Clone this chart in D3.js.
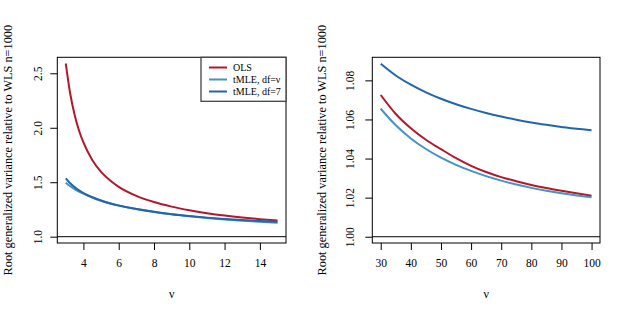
<!DOCTYPE html>
<html>
<head>
<meta charset="utf-8">
<script src="https://cdn.jsdelivr.net/npm/d3@7"></script>
<style>
  body { margin: 0; background: #fff; }
</style>
</head>
<body>
<svg id="chart" width="630" height="315" font-family="Liberation Serif"></svg>
<script>
// left panel: small nu
var nuLeft = [3, 3.25, 3.5, 3.75, 4, 4.5, 5, 5.5, 6, 7, 8, 9, 10, 11, 12, 13, 14, 15];
var olsLeft = [2.59, 2.315, 2.12, 1.975, 1.865, 1.705, 1.595, 1.518, 1.458, 1.375, 1.318, 1.276, 1.243, 1.216, 1.194, 1.176, 1.161, 1.148];
var tmleNuLeft = [1.496, 1.463, 1.437, 1.415, 1.396, 1.36, 1.33, 1.305, 1.285, 1.254, 1.227, 1.205, 1.187, 1.171, 1.158, 1.147, 1.137, 1.129];
var tmle7Left = [1.536, 1.49, 1.455, 1.425, 1.4, 1.362, 1.332, 1.307, 1.287, 1.254, 1.228, 1.207, 1.19, 1.175, 1.163, 1.153, 1.144, 1.136];

// right panel: large nu
var nuRight = [30, 35, 40, 45, 50, 55, 60, 65, 70, 75, 80, 85, 90, 95, 100];
var olsRight = [1.0725, 1.0628, 1.0555, 1.0496, 1.0448, 1.0402, 1.0363, 1.0331, 1.0305, 1.0284, 1.0265, 1.0249, 1.0235, 1.0222, 1.021];
var tmleNuRight = [1.0655, 1.057, 1.0503, 1.0449, 1.0405, 1.0368, 1.0337, 1.031, 1.0287, 1.0267, 1.025, 1.0235, 1.0222, 1.0211, 1.0202];
var tmle7Right = [1.0885, 1.0825, 1.0778, 1.0739, 1.0706, 1.0678, 1.0654, 1.0633, 1.0615, 1.0599, 1.0585, 1.0573, 1.0562, 1.0552, 1.0545];

var leftXTicks = [4, 6, 8, 10, 12, 14];
var leftYTicks = [1.0, 1.5, 2.0, 2.5];
var rightXTicks = [30, 40, 50, 60, 70, 80, 90, 100];
var rightYTicks = [1.00, 1.02, 1.04, 1.06, 1.08];

var seriesNames = ["OLS", "tMLE, df=\u03bd", "tMLE, df=7"];
var seriesColors = ["#b2182b", "#4393c3", "#2166ac"];

var serif = "Liberation Serif";
var svg = d3.select("#chart");
var yLabel = "Root generalized variance relative to WLS n=1000";

function panel(opt) {
  var x = d3.scaleLinear().domain(opt.xDomain).range([opt.left, opt.right]);
  var y = d3.scaleLinear().domain(opt.yDomain).range([opt.bottom, opt.top]);
  var g = svg.append("g");

  // reference line at 1
  g.append("line")
    .attr("x1", opt.left).attr("x2", opt.right)
    .attr("y1", y(1)).attr("y2", y(1))
    .attr("stroke", "#000").attr("stroke-width", 1);

  var line = d3.line()
    .x(function(d) { return x(d[0]); })
    .y(function(d) { return y(d[1]); })
    .curve(d3.curveMonotoneX);

  opt.series.forEach(function(s, i) {
    g.append("path")
      .datum(opt.nu.map(function(n, j) { return [n, s[j]]; }))
      .attr("d", line)
      .attr("fill", "none")
      .attr("stroke", seriesColors[i])
      .attr("stroke-width", 2);
  });

  // box
  g.append("rect")
    .attr("x", opt.left).attr("y", opt.top)
    .attr("width", opt.right - opt.left).attr("height", opt.bottom - opt.top)
    .attr("fill", "none").attr("stroke", "#000").attr("stroke-width", 1);

  // x axis
  var xa = g.append("g").attr("transform", "translate(0," + opt.bottom + ")")
    .call(d3.axisBottom(x).tickValues(opt.xTicks).tickSize(7).tickPadding(9).tickFormat(d3.format("d")));
  xa.attr("font-family", serif).attr("font-size", 11.5);
  xa.select(".domain").remove();

  // y axis
  var ya = g.append("g").attr("transform", "translate(" + opt.left + ",0)")
    .call(d3.axisLeft(y).tickValues(opt.yTicks).tickSize(7).tickFormat(d3.format(opt.yFmt)));
  ya.attr("font-family", serif).attr("font-size", 11.5);
  ya.select(".domain").remove();
  ya.selectAll("text")
    .attr("x", null).attr("dy", null)
    .attr("text-anchor", "middle")
    .attr("dominant-baseline", "central")
    .attr("transform", "translate(" + (-opt.yLabX) + ",0) rotate(-90)");

  g.append("text")
    .attr("x", (opt.left + opt.right) / 2).attr("y", 294)
    .attr("text-anchor", "middle").attr("dominant-baseline", "central")
    .attr("font-family", serif).attr("font-size", 12)
    .text("\u03bd");

  g.append("text")
    .attr("transform", "translate(" + opt.titleX + "," + (opt.top + opt.bottom) / 2 + ") rotate(-90)")
    .attr("text-anchor", "middle").attr("dominant-baseline", "central")
    .attr("font-family", serif).attr("font-size", 12.3)
    .text(yLabel);

  return g;
}

var gl = panel({
  left: 57.3, right: 286, top: 57.3, bottom: 243,
  xDomain: [2.52, 15.48], yDomain: [0.942, 2.647],
  nu: nuLeft, series: [olsLeft, tmleNuLeft, tmle7Left],
  xTicks: leftXTicks, yTicks: leftYTicks, yFmt: ".1f",
  yLabX: 19.5, titleX: 8
});

panel({
  left: 372.3, right: 600, top: 57.3, bottom: 243,
  xDomain: [27.2, 102.8], yDomain: [0.9968, 1.0918],
  nu: nuRight, series: [olsRight, tmleNuRight, tmle7Right],
  xTicks: rightXTicks, yTicks: rightYTicks, yFmt: ".2f",
  yLabX: 22, titleX: 322
});

// legend in left panel
var lg = gl.append("g");
lg.append("rect")
  .attr("x", 201).attr("y", 57.3).attr("width", 85).attr("height", 44)
  .attr("fill", "#fff").attr("stroke", "#444").attr("stroke-width", 1.3);
seriesNames.forEach(function(name, i) {
  var yy = 67.5 + i * 12;
  lg.append("line")
    .attr("x1", 209).attr("x2", 227).attr("y1", yy).attr("y2", yy)
    .attr("stroke", seriesColors[i]).attr("stroke-width", 2);
  lg.append("text")
    .attr("x", 233).attr("y", yy)
    .attr("dominant-baseline", "central")
    .attr("font-family", serif).attr("font-size", 10)
    .text(name);
});
</script>
</body>
</html>
